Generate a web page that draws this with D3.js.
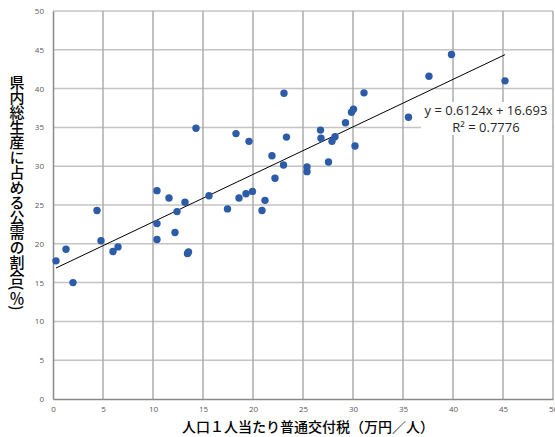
<!DOCTYPE html>
<html>
<head>
<meta charset="utf-8">
<script src="https://cdn.jsdelivr.net/npm/d3@7"></script>
<style>
  html, body { margin: 0; padding: 0; background: #fff; }
  svg { display: block; }
</style>
</head>
<body>
<div id="chart"></div>
<script>
// ---- data ----
const xValues = [0.3, 1.3, 2.0, 4.4, 4.8, 6.0, 6.5, 10.4, 10.4, 10.4,
  11.6, 12.2, 12.4, 13.2, 13.45, 13.55, 14.3, 15.6, 17.45, 18.3,
  18.6, 19.3, 19.6, 19.95, 20.9, 21.2, 21.9, 22.2, 23.05, 23.1,
  23.35, 25.4, 25.4, 26.75, 26.8, 27.55, 27.9, 28.2, 29.25, 29.85,
  30.05, 30.2, 31.1, 35.55, 37.6, 39.85, 45.2];
const yValues = [17.8, 19.3, 15.0, 24.3, 20.4, 19.0, 19.6, 26.85, 22.6, 20.55,
  25.9, 21.45, 24.15, 25.35, 18.75, 18.95, 34.9, 26.2, 24.5, 34.2,
  25.9, 26.45, 33.2, 26.75, 24.3, 25.6, 31.35, 28.45, 30.15, 39.4,
  33.75, 29.9, 29.3, 34.65, 33.6, 30.55, 33.2, 33.8, 35.6, 36.95,
  37.35, 32.6, 39.45, 36.3, 41.6, 44.4, 41.0];
const trendCoef = [0.6124, 16.693];           // slope, intercept
const equationLines = ["y = 0.6124x + 16.693", "R² = 0.7776"];
const xTickValues = [0, 5, 10, 15, 20, 25, 30, 35, 40, 45, 50];
const yTickValues = [0, 5, 10, 15, 20, 25, 30, 35, 40, 45, 50];
const xTitle = "人口１人当たり普通交付税（万円／人）";
const yTitle = "県内総生産に占める公需の割合(％)";

// ---- layout ----
const W = 555, H = 437;
const m = { left: 53, right: 2, top: 11, bottom: 38 };

const svg = d3.select("#chart").append("svg")
  .attr("width", W).attr("height", H);

const x = d3.scaleLinear().domain([0, 50]).range([m.left, W - m.right]);
const y = d3.scaleLinear().domain([0, 50]).range([H - m.bottom, m.top]);

// grid lines
svg.append("g").selectAll("line").data(yTickValues.filter(d => d > 0)).join("line")
  .attr("x1", x(0)).attr("x2", x(50))
  .attr("y1", d => y(d)).attr("y2", d => y(d))
  .attr("stroke", "#c4c4c4").attr("stroke-width", 1.5);
svg.append("g").selectAll("line").data(xTickValues.filter(d => d > 0)).join("line")
  .attr("y1", y(0)).attr("y2", y(50))
  .attr("x1", d => x(d)).attr("x2", d => x(d))
  .attr("stroke", "#acacac").attr("stroke-width", 1.5);

// axes
const xAxis = d3.axisBottom(x).tickValues(xTickValues).tickSize(0).tickPadding(7);
const yAxis = d3.axisLeft(y).tickValues(yTickValues).tickSize(0).tickPadding(9);
const gx = svg.append("g").attr("transform", `translate(0,${y(0)})`).call(xAxis);
const gy = svg.append("g").attr("transform", `translate(${x(0)},0)`).call(yAxis);
[gx, gy].forEach(g => {
  g.select(".domain").attr("stroke", "#8a8a8a").attr("stroke-width", 1.5);
  g.selectAll("text").attr("fill", "#595959")
    .style("font-family", "'Open Sans', 'Liberation Sans', sans-serif")
    .style("font-size", "8px");
});

// trend line
const xMin = d3.min(xValues), xMax = d3.max(xValues);
svg.append("line")
  .attr("x1", x(xMin)).attr("y1", y(trendCoef[0] * xMin + trendCoef[1]))
  .attr("x2", x(xMax)).attr("y2", y(trendCoef[0] * xMax + trendCoef[1]))
  .attr("stroke", "#000").attr("stroke-width", 1);

// points
svg.append("g").selectAll("circle").data(xValues.map((v, i) => [v, yValues[i]])).join("circle")
  .attr("cx", d => x(d[0])).attr("cy", d => y(d[1]))
  .attr("r", 3.7).attr("fill", "#2c5ca8");

// equation label
const eq = svg.append("g");
eq.append("rect").attr("x", 421).attr("y", 102).attr("width", 131).attr("height", 33)
  .attr("fill", "#fff");
eq.selectAll("text").data(equationLines).join("text")
  .attr("x", 486).attr("y", (d, i) => 115 + i * 16.5)
  .attr("text-anchor", "middle")
  .style("font-family", "'Open Sans', 'Liberation Sans', sans-serif")
  .style("font-size", "13px").attr("fill", "#262626")
  .text(d => d);

// axis titles
svg.append("text")
  .attr("x", (x(0) + x(50)) / 2 + 5).attr("y", 432)
  .attr("text-anchor", "middle")
  .style("font-family", "'Noto Sans CJK JP', sans-serif")
  .style("font-size", "14px").style("font-weight", 500).attr("fill", "#000")
  .text(xTitle);

svg.append("text")
  .attr("x", 17).attr("y", 75)
  .style("writing-mode", "vertical-rl")
  .style("text-orientation", "mixed")
  .style("font-family", "'Noto Sans CJK JP', sans-serif")
  .style("font-size", "15px").style("font-weight", 500).attr("fill", "#000")
  .text(yTitle);
</script>
</body>
</html>
